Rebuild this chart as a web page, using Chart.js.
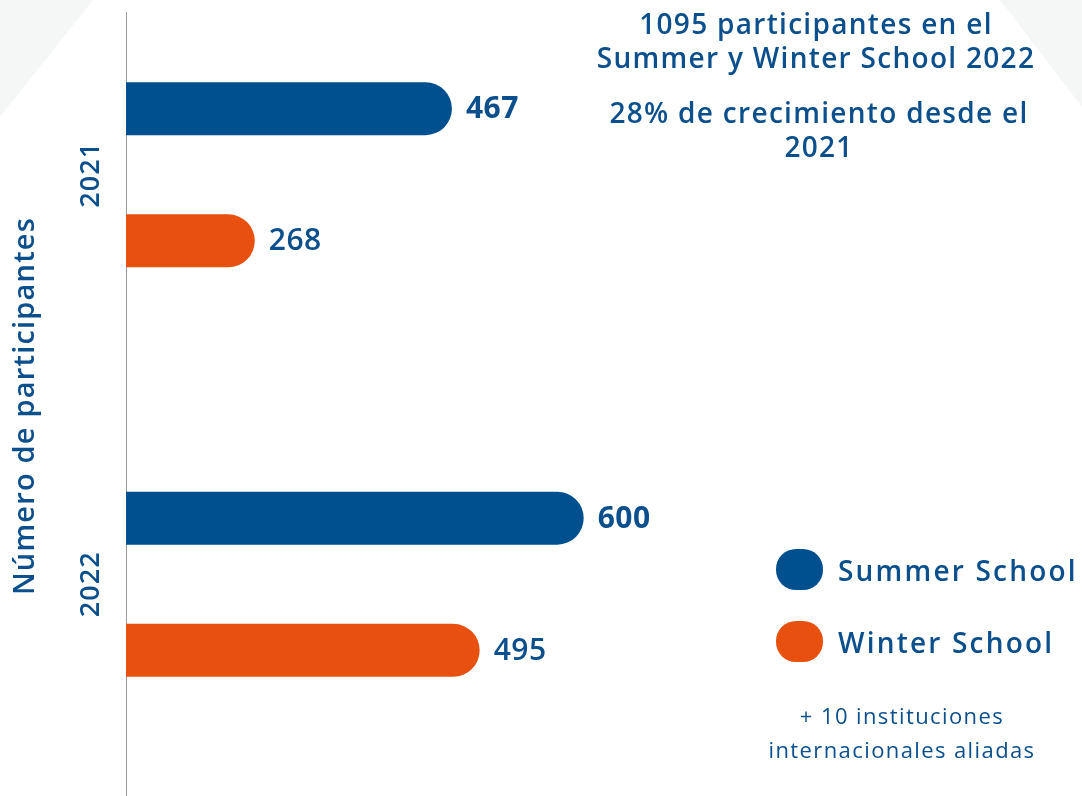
<!DOCTYPE html>
<html lang="es">
<head>
  <meta charset="UTF-8">
  <title>Participantes Summer y Winter School</title>
  <style>
    body {
      margin: 0;
      width: 1082px;
      height: 796px;
      overflow: hidden;
      background: #ffffff;
      font-family: "Open Sans", Arial, sans-serif;
      color: #0b4f8c;
      position: relative;
    }

    .corner {
      position: absolute;
      top: 0;
      background: #f5f7f7;
    }

    .corner.left {
      left: 0;
      width: 93px;
      height: 117px;
      clip-path: polygon(0 0, 100% 0, 0 100%);
    }

    .corner.right {
      right: 0;
      width: 82px;
      height: 107px;
      clip-path: polygon(0 0, 100% 0, 100% 100%);
    }

    /* canvas starts 30px above the page so the 2021 group sits high like the original */
    .chart-box {
      position: absolute;
      left: 0;
      top: -30px;
      width: 1082px;
      height: 826px;
    }

    .note {
      position: absolute;
      text-align: center;
      font-weight: 600;
      white-space: nowrap;
    }

    .note.top {
      font-size: 28px;
      line-height: 34px;
      letter-spacing: 1.3px;
    }

    .note.small {
      font-size: 22px;
      line-height: 34px;
      font-weight: 500;
      letter-spacing: 1.4px;
    }

    .legend-item {
      position: absolute;
      left: 776px;
      height: 41px;
      display: flex;
      align-items: center;
      font-size: 28px;
      font-weight: 600;
      letter-spacing: 2.2px;
      white-space: nowrap;
    }

    .legend-item .pill {
      width: 47px;
      height: 41px;
      border-radius: 20px;
      margin-right: 15px;
    }
  </style>
</head>
<body>
  <div class="corner left"></div>
  <div class="corner right"></div>

  <div class="chart-box">
    <canvas id="chart"></canvas>
  </div>

  <div class="note top" style="left:566px; width:500px; top:6px;">1095 participantes en el<br>Summer y Winter School 2022</div>
  <div class="note top" style="left:569px; width:500px; top:95px;">28% de crecimiento desde el<br>2021</div>

  <div id="legend"></div>

  <div class="note small" style="left:752px; width:300px; top:698px;">+ 10 instituciones<br>internacionales aliadas</div>

  <script src="https://cdn.jsdelivr.net/npm/chart.js"></script>
  <script>
    // Data
    const years = ["2021", "2022"];
    const seriesNames = ["Summer School", "Winter School"];
    const summerValues = [467, 600];
    const winterValues = [268, 495];
    const seriesColors = ["#00508f", "#e8500f"];
    const axisTitle = "Número de participantes";

    const textColor = "#0b4f8c";
    const fontFamily = '"Open Sans", Arial, sans-serif';
    const canvasShift = 30; // page y = canvas y - canvasShift

    // HTML legend
    const legendEl = document.getElementById("legend");
    seriesNames.forEach((name, i) => {
      const item = document.createElement("div");
      item.className = "legend-item";
      item.style.top = (549 + i * 72) + "px";
      item.innerHTML = `<span class="pill" style="background:${seriesColors[i]}"></span>${name}`;
      legendEl.appendChild(item);
    });

    // Axis line, rotated title, rotated year labels, value labels
    const decorPlugin = {
      id: "decor",
      beforeDatasetsDraw(chart) {
        const ctx = chart.ctx;
        const x = chart.scales.y.right + 0.5;
        ctx.save();
        ctx.strokeStyle = "#9a9a9a";
        ctx.lineWidth = 1;
        ctx.beginPath();
        ctx.moveTo(x, 12 + canvasShift);
        ctx.lineTo(x, chart.height);
        ctx.stroke();
        ctx.restore();
      },
      afterDatasetsDraw(chart) {
        const ctx = chart.ctx;
        const yScale = chart.scales.y;
        ctx.save();
        ctx.fillStyle = textColor;

        // year labels
        ctx.font = `600 27px ${fontFamily}`;
        ctx.letterSpacing = "1px";
        ctx.textAlign = "center";
        ctx.textBaseline = "middle";
        years.forEach((label, i) => {
          ctx.save();
          ctx.translate(91, yScale.getPixelForValue(i));
          ctx.rotate(-Math.PI / 2);
          ctx.fillText(label, 0, 0);
          ctx.restore();
        });

        // axis title
        ctx.font = `600 29px ${fontFamily}`;
        ctx.letterSpacing = "1.2px";
        ctx.save();
        ctx.translate(26, 406 + canvasShift);
        ctx.rotate(-Math.PI / 2);
        ctx.fillText(axisTitle, 0, 0);
        ctx.restore();

        // value labels at the bar ends
        ctx.textAlign = "left";
        ctx.letterSpacing = "0.5px";
        chart.data.datasets.forEach((ds, di) => {
          const meta = chart.getDatasetMeta(di);
          ctx.font = `${di === 0 ? 700 : 600} 30px ${fontFamily}`;
          meta.data.forEach((bar, i) => {
            ctx.fillText(ds.data[i], bar.x + 14, bar.y + 1);
          });
        });
        ctx.restore();
      }
    };

    new Chart(document.getElementById("chart"), {
      type: "bar",
      data: {
        labels: years,
        datasets: [
          {
            label: seriesNames[0],
            data: summerValues,
            backgroundColor: seriesColors[0]
          },
          {
            label: seriesNames[1],
            data: winterValues,
            backgroundColor: seriesColors[1]
          }
        ]
      },
      options: {
        indexAxis: "y",
        responsive: true,
        maintainAspectRatio: false,
        animation: false,
        layout: {
          padding: { top: 0, bottom: 7, left: 0, right: 0 }
        },
        datasets: {
          bar: {
            categoryPercentage: 0.645,
            barPercentage: 0.4,
            borderRadius: 27,
            borderSkipped: false
          }
        },
        scales: {
          x: {
            display: false,
            min: 138,
            max: 1103
          },
          y: {
            display: true,
            grid: { display: false },
            border: { display: false },
            ticks: { display: false },
            afterFit(scale) {
              scale.width = 126;
            }
          }
        },
        plugins: {
          legend: { display: false },
          tooltip: { enabled: false }
        }
      },
      plugins: [decorPlugin]
    });
  </script>
</body>
</html>
